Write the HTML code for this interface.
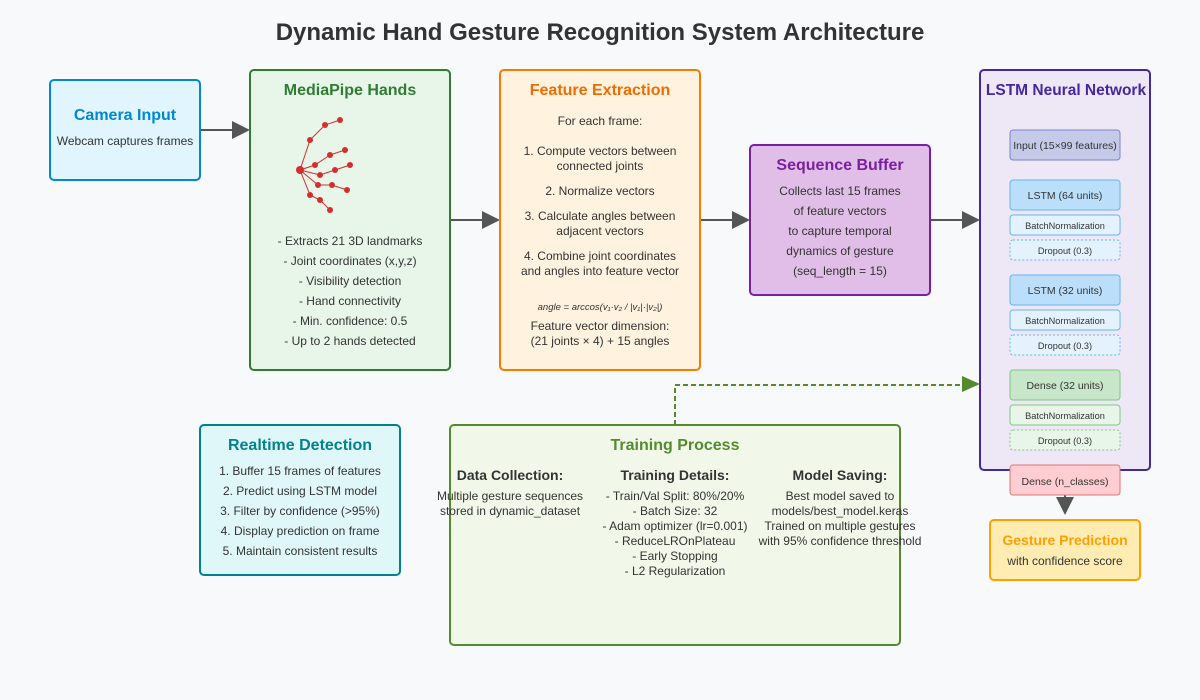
<!DOCTYPE html>
<html><head><meta charset="utf-8"><style>
html,body{margin:0;padding:0;background:#f8f9fa;}
svg{display:block;font-family:"Liberation Sans",Arial,sans-serif;}
</style></head><body>
<svg width="1200" height="700" viewBox="0 0 1200 700" xmlns="http://www.w3.org/2000/svg">
<rect width="1200" height="700" fill="#f8f9fa"/>
<text x="600" y="40" text-anchor="middle" font-size="24" font-weight="bold" fill="#333">Dynamic Hand Gesture Recognition System Architecture</text>

<g stroke="#555" stroke-width="2" fill="#555">
<line x1="200" y1="130" x2="235" y2="130"/><polygon points="232,121 250,130 232,139" stroke="none"/>
<line x1="450" y1="220" x2="485" y2="220"/><polygon points="482,211 500,220 482,229" stroke="none"/>
<line x1="700" y1="220" x2="735" y2="220"/><polygon points="732,211 750,220 732,229" stroke="none"/>
<line x1="930" y1="220" x2="965" y2="220"/><polygon points="962,211 980,220 962,229" stroke="none"/>
<line x1="1065" y1="495" x2="1065" y2="503"/><polygon points="1056,497 1074,497 1065,515" stroke="none"/>
</g>
<polyline points="675,425 675,385 965,385" fill="none" stroke="#558b2f" stroke-width="2" stroke-dasharray="5,3"/>
<polygon points="962,376 980,384 962,392" fill="#558b2f"/>

<rect x="50" y="80" width="150" height="100" rx="4" fill="#e1f5fe" stroke="#0288d1" stroke-width="2"/>
<text x="125" y="120" text-anchor="middle" font-size="16" font-weight="bold" fill="#0288d1">Camera Input</text>
<text x="125" y="145" text-anchor="middle" font-size="12" fill="#333">Webcam captures frames</text>

<rect x="250" y="70" width="200" height="300" rx="4" fill="#e8f5e9" stroke="#2e7d32" stroke-width="2"/>
<text x="350" y="95" text-anchor="middle" font-size="16" font-weight="bold" fill="#2e7d32">MediaPipe Hands</text>
<g stroke="#d32f2f" stroke-width="1" fill="none">
<polyline points="300,170 310,140 325,125 340,120"/>
<polyline points="300,170 315,165 330,155 345,150"/>
<polyline points="300,170 320,175 335,170 350,165"/>
<polyline points="300,170 318,185 332,185 347,190"/>
<polyline points="300,170 310,195 320,200 330,210"/>
</g>
<g fill="#d32f2f">
<circle cx="300" cy="170" r="4"/>
<circle cx="310" cy="140" r="3"/><circle cx="325" cy="125" r="3"/><circle cx="340" cy="120" r="3"/>
<circle cx="315" cy="165" r="3"/><circle cx="330" cy="155" r="3"/><circle cx="345" cy="150" r="3"/>
<circle cx="320" cy="175" r="3"/><circle cx="335" cy="170" r="3"/><circle cx="350" cy="165" r="3"/>
<circle cx="318" cy="185" r="3"/><circle cx="332" cy="185" r="3"/><circle cx="347" cy="190" r="3"/>
<circle cx="310" cy="195" r="3"/><circle cx="320" cy="200" r="3"/><circle cx="330" cy="210" r="3"/>
</g>
<g font-size="12" fill="#333" text-anchor="middle">
<text x="350" y="245">- Extracts 21 3D landmarks</text>
<text x="350" y="265">- Joint coordinates (x,y,z)</text>
<text x="350" y="285">- Visibility detection</text>
<text x="350" y="305">- Hand connectivity</text>
<text x="350" y="325">- Min. confidence: 0.5</text>
<text x="350" y="345">- Up to 2 hands detected</text>
</g>

<rect x="500" y="70" width="200" height="300" rx="4" fill="#fff3e0" stroke="#f57c00" stroke-width="2"/>
<text x="600" y="95" text-anchor="middle" font-size="16" font-weight="bold" fill="#ef6c00">Feature Extraction</text>
<g font-size="12" fill="#333" text-anchor="middle">
<text x="600" y="125">For each frame:</text>
<text x="600" y="155">1. Compute vectors between</text>
<text x="600" y="170">connected joints</text>
<text x="600" y="195">2. Normalize vectors</text>
<text x="600" y="220">3. Calculate angles between</text>
<text x="600" y="235">adjacent vectors</text>
<text x="600" y="260">4. Combine joint coordinates</text>
<text x="600" y="275">and angles into feature vector</text>
<text x="600" y="310" font-size="9.5" font-style="italic">angle = arccos(v₁·v₂ / |v₁|·|v₂|)</text>
<text x="600" y="330">Feature vector dimension:</text>
<text x="600" y="345">(21 joints × 4) + 15 angles</text>
</g>

<rect x="750" y="145" width="180" height="150" rx="4" fill="#e1bee7" stroke="#7b1fa2" stroke-width="2"/>
<text x="840" y="170" text-anchor="middle" font-size="16" font-weight="bold" fill="#7b1fa2">Sequence Buffer</text>
<g font-size="12" fill="#333" text-anchor="middle">
<text x="840" y="195">Collects last 15 frames</text>
<text x="840" y="215">of feature vectors</text>
<text x="840" y="235">to capture temporal</text>
<text x="840" y="255">dynamics of gesture</text>
<text x="840" y="275">(seq_length = 15)</text>
</g>

<rect x="980" y="70" width="170" height="400" rx="4" fill="#ede7f6" stroke="#4527a0" stroke-width="2"/>
<text x="1066" y="95" text-anchor="middle" font-size="15.5" font-weight="bold" fill="#4527a0">LSTM Neural Network</text>
<g font-size="10.5" fill="#333" text-anchor="middle">
<rect x="1010" y="130" width="110" height="30" rx="3" fill="#c5cae9" stroke="#7986cb"/><text x="1065" y="149">Input (15×99 features)</text>
<rect x="1010" y="180" width="110" height="30" rx="3" fill="#bbdefb" stroke="#64b5f6"/><text x="1065" y="199">LSTM (64 units)</text>
<rect x="1010" y="215" width="110" height="20" rx="3" fill="#e3f2fd" stroke="#64b5f6"/><text x="1065" y="229" font-size="9.2">BatchNormalization</text>
<rect x="1010" y="240" width="110" height="20" rx="3" fill="#e3f2fd" stroke="#64b5f6" stroke-dasharray="2,2"/><text x="1065" y="254" font-size="9.2">Dropout (0.3)</text>
<rect x="1010" y="275" width="110" height="30" rx="3" fill="#bbdefb" stroke="#64b5f6"/><text x="1065" y="294">LSTM (32 units)</text>
<rect x="1010" y="310" width="110" height="20" rx="3" fill="#e3f2fd" stroke="#64b5f6"/><text x="1065" y="324" font-size="9.2">BatchNormalization</text>
<rect x="1010" y="335" width="110" height="20" rx="3" fill="#e3f2fd" stroke="#64b5f6" stroke-dasharray="2,2"/><text x="1065" y="349" font-size="9.2">Dropout (0.3)</text>
<rect x="1010" y="370" width="110" height="30" rx="3" fill="#c8e6c9" stroke="#81c784"/><text x="1065" y="389">Dense (32 units)</text>
<rect x="1010" y="405" width="110" height="20" rx="3" fill="#e8f5e9" stroke="#81c784"/><text x="1065" y="419" font-size="9.2">BatchNormalization</text>
<rect x="1010" y="430" width="110" height="20" rx="3" fill="#e8f5e9" stroke="#81c784" stroke-dasharray="2,2"/><text x="1065" y="444" font-size="9.2">Dropout (0.3)</text>
<rect x="1010" y="465" width="110" height="30" rx="3" fill="#ffcdd2" stroke="#e57373"/><text x="1065" y="485">Dense (n_classes)</text>
</g>

<rect x="990" y="520" width="150" height="60" rx="4" fill="#ffecb3" stroke="#ffa000" stroke-width="2"/>
<text x="1065" y="545" text-anchor="middle" font-size="14" font-weight="bold" fill="#ffa000">Gesture Prediction</text>
<text x="1065" y="565" text-anchor="middle" font-size="12" fill="#333">with confidence score</text>

<rect x="200" y="425" width="200" height="150" rx="4" fill="#e0f7fa" stroke="#00838f" stroke-width="2"/>
<text x="300" y="450" text-anchor="middle" font-size="16" font-weight="bold" fill="#00838f">Realtime Detection</text>
<g font-size="12" fill="#333" text-anchor="middle">
<text x="300" y="475">1. Buffer 15 frames of features</text>
<text x="300" y="495">2. Predict using LSTM model</text>
<text x="300" y="515">3. Filter by confidence (&gt;95%)</text>
<text x="300" y="535">4. Display prediction on frame</text>
<text x="300" y="555">5. Maintain consistent results</text>
</g>

<rect x="450" y="425" width="450" height="220" rx="4" fill="#f1f8e9" stroke="#558b2f" stroke-width="2"/>
<text x="675" y="450" text-anchor="middle" font-size="16" font-weight="bold" fill="#558b2f">Training Process</text>
<g text-anchor="middle" fill="#333">
<text x="510" y="480" font-size="14" font-weight="bold">Data Collection:</text>
<text x="675" y="480" font-size="14" font-weight="bold">Training Details:</text>
<text x="840" y="480" font-size="14" font-weight="bold">Model Saving:</text>
<g font-size="12">
<text x="510" y="500">Multiple gesture sequences</text>
<text x="510" y="515">stored in dynamic_dataset</text>
<text x="675" y="500">- Train/Val Split: 80%/20%</text>
<text x="675" y="515">- Batch Size: 32</text>
<text x="675" y="530">- Adam optimizer (lr=0.001)</text>
<text x="675" y="545">- ReduceLROnPlateau</text>
<text x="675" y="560">- Early Stopping</text>
<text x="675" y="575">- L2 Regularization</text>
<text x="840" y="500">Best model saved to</text>
<text x="840" y="515">models/best_model.keras</text>
<text x="840" y="530">Trained on multiple gestures</text>
<text x="840" y="545">with 95% confidence threshold</text>
</g>
</g>
</svg>
</body></html>
